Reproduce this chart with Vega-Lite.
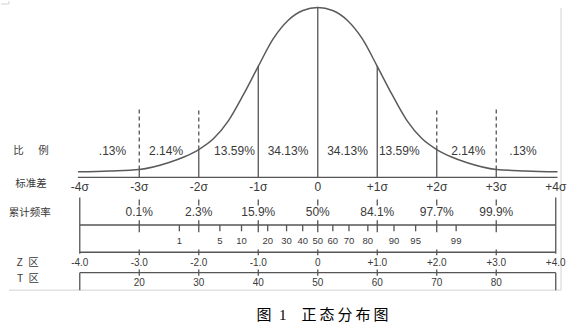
{
  "$schema": "https://vega.github.io/schema/vega-lite/v6.json",
  "width": 578,
  "height": 332,
  "autosize": {"type": "fit", "contains": "padding"},
  "padding": 0,
  "background": "white",
  "config": {"view": {"stroke": null}},
  "datasets": {
    "curve": [
      {"z": -4.03, "h": 5.7}, {"z": -3.5, "h": 6.6}, {"z": -3, "h": 8}, {"z": -2.5, "h": 15},
      {"z": -2.25, "h": 20.5}, {"z": -2, "h": 28}, {"z": -1.75, "h": 39}, {"z": -1.5, "h": 57},
      {"z": -1.25, "h": 83}, {"z": -1, "h": 111.5}, {"z": -0.75, "h": 139}, {"z": -0.5, "h": 157.5},
      {"z": -0.25, "h": 167.5}, {"z": 0, "h": 170.5}, {"z": 0.25, "h": 167.5}, {"z": 0.5, "h": 157.5},
      {"z": 0.75, "h": 139}, {"z": 1, "h": 111.5}, {"z": 1.25, "h": 83}, {"z": 1.5, "h": 57},
      {"z": 1.75, "h": 39}, {"z": 2, "h": 28}, {"z": 2.25, "h": 20.5}, {"z": 2.5, "h": 15},
      {"z": 3, "h": 8}, {"z": 3.5, "h": 6.6}, {"z": 4.03, "h": 5.7}
    ],
    "lines": [
      {"x": -4.03, "x2": 4.03, "y": 0, "y2": 0},
      {"x": -4, "x2": 4, "y": -47.7, "y2": -47.7},
      {"x": -4, "x2": 4, "y": -75, "y2": -75},
      {"x": -4, "x2": 4, "y": -95.5, "y2": -95.5},
      {"x": 0, "x2": 0, "y": 0, "y2": 170.5},
      {"x": -1, "x2": -1, "y": 0, "y2": 112},
      {"x": 1, "x2": 1, "y": 0, "y2": 112},
      {"x": -2, "x2": -2, "y": 0, "y2": 28},
      {"x": 2, "x2": 2, "y": 0, "y2": 28},
      {"x": -3, "x2": -3, "y": 0, "y2": 8},
      {"x": 3, "x2": 3, "y": 0, "y2": 8},
      {"x": -4, "x2": -4, "y": -20, "y2": -76.5},
      {"x": -4, "x2": -4, "y": -95.5, "y2": -113},
      {"x": 4, "x2": 4, "y": -20, "y2": -76.5},
      {"x": 4, "x2": 4, "y": -95.5, "y2": -113},
      {"x": -3, "x2": -3, "y": -22, "y2": -28},
      {"x": -2, "x2": -2, "y": -22, "y2": -28},
      {"x": -1, "x2": -1, "y": -22, "y2": -28},
      {"x": 0, "x2": 0, "y": -22, "y2": -28},
      {"x": 1, "x2": 1, "y": -22, "y2": -28},
      {"x": 2, "x2": 2, "y": -22, "y2": -28},
      {"x": 3, "x2": 3, "y": -22, "y2": -28},
      {"x": -3, "x2": -3, "y": -43, "y2": -55},
      {"x": -2, "x2": -2, "y": -43, "y2": -55},
      {"x": -1, "x2": -1, "y": -43, "y2": -55},
      {"x": 0, "x2": 0, "y": -43, "y2": -55},
      {"x": 1, "x2": 1, "y": -43, "y2": -55},
      {"x": 2, "x2": 2, "y": -43, "y2": -55},
      {"x": 3, "x2": 3, "y": -43, "y2": -55},
      {"x": -2.326, "x2": -2.326, "y": -47.7, "y2": -54},
      {"x": -1.645, "x2": -1.645, "y": -47.7, "y2": -54},
      {"x": -1.2816, "x2": -1.2816, "y": -47.7, "y2": -54},
      {"x": -0.8416, "x2": -0.8416, "y": -47.7, "y2": -54},
      {"x": -0.5244, "x2": -0.5244, "y": -47.7, "y2": -54},
      {"x": -0.2533, "x2": -0.2533, "y": -47.7, "y2": -54},
      {"x": 0.2533, "x2": 0.2533, "y": -47.7, "y2": -54},
      {"x": 0.5244, "x2": 0.5244, "y": -47.7, "y2": -54},
      {"x": 0.8416, "x2": 0.8416, "y": -47.7, "y2": -54},
      {"x": 1.2816, "x2": 1.2816, "y": -47.7, "y2": -54},
      {"x": 1.645, "x2": 1.645, "y": -47.7, "y2": -54},
      {"x": 2.326, "x2": 2.326, "y": -47.7, "y2": -54},
      {"x": -3, "x2": -3, "y": -72.3, "y2": -78},
      {"x": -2, "x2": -2, "y": -72.3, "y2": -78},
      {"x": -1, "x2": -1, "y": -72.3, "y2": -78},
      {"x": 0, "x2": 0, "y": -72.3, "y2": -78},
      {"x": 1, "x2": 1, "y": -72.3, "y2": -78},
      {"x": 2, "x2": 2, "y": -72.3, "y2": -78},
      {"x": 3, "x2": 3, "y": -72.3, "y2": -78},
      {"x": -3, "x2": -3, "y": -92.3, "y2": -98.5},
      {"x": -2, "x2": -2, "y": -92.3, "y2": -98.5},
      {"x": -1, "x2": -1, "y": -92.3, "y2": -98.5},
      {"x": 0, "x2": 0, "y": -92.3, "y2": -98.5},
      {"x": 1, "x2": 1, "y": -92.3, "y2": -98.5},
      {"x": 2, "x2": 2, "y": -92.3, "y2": -98.5},
      {"x": 3, "x2": 3, "y": -92.3, "y2": -98.5}
    ],
    "guides": [
      {"x": -3, "x2": -3, "y": 8, "y2": 70},
      {"x": 3, "x2": 3, "y": 8, "y2": 70},
      {"x": -2, "x2": -2, "y": 28, "y2": 70},
      {"x": 2, "x2": 2, "y": 28, "y2": 70}
    ],
    "frame": [
      {"x": -5.19, "x2": 4.089, "y": -113, "y2": -113},
      {"x": 4.089, "x2": 4.089, "y": -113, "y2": 170},
      {"x": -5.324, "x2": -5.19, "y": 174, "y2": 174},
      {"x": -5.19, "x2": -5.19, "y": 174, "y2": 177}
    ],
    "labels": [
      {"row": "pct", "x": -3.45, "y": 27, "text": ".13%"},
      {"row": "pct", "x": -2.55, "y": 27, "text": "2.14%"},
      {"row": "pct", "x": -1.4, "y": 27, "text": "13.59%"},
      {"row": "pct", "x": -0.5, "y": 27, "text": "34.13%"},
      {"row": "pct", "x": 0.5, "y": 27, "text": "34.13%"},
      {"row": "pct", "x": 1.37, "y": 27, "text": "13.59%"},
      {"row": "pct", "x": 2.53, "y": 27, "text": "2.14%"},
      {"row": "pct", "x": 3.45, "y": 27, "text": ".13%"},
      {"row": "sigma", "x": -4, "y": -9.5, "text": "-4σ"},
      {"row": "sigma", "x": -3, "y": -9.5, "text": "-3σ"},
      {"row": "sigma", "x": -2, "y": -9.5, "text": "-2σ"},
      {"row": "sigma", "x": -1, "y": -9.5, "text": "-1σ"},
      {"row": "sigma", "x": 0, "y": -9.5, "text": "0"},
      {"row": "sigma", "x": 1, "y": -9.5, "text": "+1σ"},
      {"row": "sigma", "x": 2, "y": -9.5, "text": "+2σ"},
      {"row": "sigma", "x": 3, "y": -9.5, "text": "+3σ"},
      {"row": "sigma", "x": 4, "y": -9.5, "text": "+4σ"},
      {"row": "cum", "x": -3, "y": -35, "text": "0.1%"},
      {"row": "cum", "x": -2, "y": -35, "text": "2.3%"},
      {"row": "cum", "x": -1, "y": -35, "text": "15.9%"},
      {"row": "cum", "x": 0, "y": -35, "text": "50%"},
      {"row": "cum", "x": 1, "y": -35, "text": "84.1%"},
      {"row": "cum", "x": 2, "y": -35, "text": "97.7%"},
      {"row": "cum", "x": 3, "y": -35, "text": "99.9%"},
      {"row": "pctile", "x": -2.326, "y": -64, "text": "1"},
      {"row": "pctile", "x": -1.645, "y": -64, "text": "5"},
      {"row": "pctile", "x": -1.2816, "y": -64, "text": "10"},
      {"row": "pctile", "x": -0.8416, "y": -64, "text": "20"},
      {"row": "pctile", "x": -0.5244, "y": -64, "text": "30"},
      {"row": "pctile", "x": -0.2533, "y": -64, "text": "40"},
      {"row": "pctile", "x": 0, "y": -64, "text": "50"},
      {"row": "pctile", "x": 0.2533, "y": -64, "text": "60"},
      {"row": "pctile", "x": 0.5244, "y": -64, "text": "70"},
      {"row": "pctile", "x": 0.8416, "y": -64, "text": "80"},
      {"row": "pctile", "x": 1.2816, "y": -64, "text": "90"},
      {"row": "pctile", "x": 1.645, "y": -64, "text": "95"},
      {"row": "pctile", "x": 2.326, "y": -64, "text": "99"},
      {"row": "z", "x": -4, "y": -86, "text": "-4.0"},
      {"row": "z", "x": -3, "y": -86, "text": "-3.0"},
      {"row": "z", "x": -2, "y": -86, "text": "-2.0"},
      {"row": "z", "x": -1, "y": -86, "text": "-1.0"},
      {"row": "z", "x": 0, "y": -86, "text": "0"},
      {"row": "z", "x": 1, "y": -86, "text": "+1.0"},
      {"row": "z", "x": 2, "y": -86, "text": "+2.0"},
      {"row": "z", "x": 3, "y": -86, "text": "+3.0"},
      {"row": "z", "x": 4, "y": -86, "text": "+4.0"},
      {"row": "t", "x": -3, "y": -106.3, "text": "20"},
      {"row": "t", "x": -2, "y": -106.3, "text": "30"},
      {"row": "t", "x": -1, "y": -106.3, "text": "40"},
      {"row": "t", "x": 0, "y": -106.3, "text": "50"},
      {"row": "t", "x": 1, "y": -106.3, "text": "60"},
      {"row": "t", "x": 2, "y": -106.3, "text": "70"},
      {"row": "t", "x": 3, "y": -106.3, "text": "80"},
      {"row": "name", "x": -5.03, "y": 27, "text": "比"},
      {"row": "name", "x": -4.611, "y": 27, "text": "例"},
      {"row": "name", "x": -4.82, "y": -7, "text": "标准差"},
      {"row": "name", "x": -4.842, "y": -35.5, "text": "累计频率"},
      {"row": "name", "x": -4.876, "y": -86, "text": "Z\u2002区"},
      {"row": "name", "x": -4.871, "y": -101.5, "text": "T\u2002区"},
      {"row": "caption", "x": 0.079, "y": -138, "text": "图\u20021\u2003正\u2009态\u2009分\u2009布\u2009图"}
    ]
  },
  "layer": [
    {
      "data": {"name": "frame"},
      "mark": {"type": "rule", "color": "#d2d2d2", "strokeWidth": 1},
      "encoding": {
        "x": {"field": "x", "type": "quantitative", "scale": {"domain": [-5.324, 4.374], "nice": false, "zero": false}, "axis": null},
        "x2": {"field": "x2"},
        "y": {"field": "y", "type": "quantitative", "scale": {"domain": [-155, 177], "nice": false, "zero": false}, "axis": null},
        "y2": {"field": "y2"}
      }
    },
    {
      "data": {"name": "lines"},
      "mark": {"type": "rule", "color": "#555555", "strokeWidth": 1.3},
      "encoding": {
        "x": {"field": "x", "type": "quantitative"},
        "x2": {"field": "x2"},
        "y": {"field": "y", "type": "quantitative"},
        "y2": {"field": "y2"}
      }
    },
    {
      "data": {"name": "guides"},
      "mark": {"type": "rule", "color": "#555555", "strokeWidth": 1.3, "strokeDash": [4, 3]},
      "encoding": {
        "x": {"field": "x", "type": "quantitative"},
        "x2": {"field": "x2"},
        "y": {"field": "y", "type": "quantitative"},
        "y2": {"field": "y2"}
      }
    },
    {
      "data": {"name": "curve"},
      "mark": {"type": "line", "color": "#5a5a5a", "strokeWidth": 1.5, "interpolate": "monotone"},
      "encoding": {
        "x": {"field": "z", "type": "quantitative"},
        "y": {"field": "h", "type": "quantitative"}
      }
    },
    {
      "data": {"name": "labels"},
      "transform": [{"filter": "datum.row === 'pct' || datum.row === 'sigma' || datum.row === 'cum'"}],
      "mark": {"type": "text", "font": "Liberation Sans", "fontSize": 12, "color": "#3a3a3a", "baseline": "middle", "align": "center"},
      "encoding": {
        "x": {"field": "x", "type": "quantitative"},
        "y": {"field": "y", "type": "quantitative"},
        "text": {"field": "text"}
      }
    },
    {
      "data": {"name": "labels"},
      "transform": [{"filter": "datum.row === 'pctile'"}],
      "mark": {"type": "text", "font": "Liberation Sans", "fontSize": 9.5, "color": "#3a3a3a", "baseline": "middle", "align": "center"},
      "encoding": {
        "x": {"field": "x", "type": "quantitative"},
        "y": {"field": "y", "type": "quantitative"},
        "text": {"field": "text"}
      }
    },
    {
      "data": {"name": "labels"},
      "transform": [{"filter": "datum.row === 'z' || datum.row === 't'"}],
      "mark": {"type": "text", "font": "Liberation Sans", "fontSize": 10, "color": "#3a3a3a", "baseline": "middle", "align": "center"},
      "encoding": {
        "x": {"field": "x", "type": "quantitative"},
        "y": {"field": "y", "type": "quantitative"},
        "text": {"field": "text"}
      }
    },
    {
      "data": {"name": "labels"},
      "transform": [{"filter": "datum.row === 'name'"}],
      "mark": {"type": "text", "font": "Noto Sans CJK SC", "fontSize": 10.5, "color": "#3a3a3a", "baseline": "middle", "align": "center"},
      "encoding": {
        "x": {"field": "x", "type": "quantitative"},
        "y": {"field": "y", "type": "quantitative"},
        "text": {"field": "text"}
      }
    },
    {
      "data": {"name": "labels"},
      "transform": [{"filter": "datum.row === 'caption'"}],
      "mark": {"type": "text", "font": "Liberation Serif, Noto Sans CJK SC", "fontSize": 15, "fontWeight": "normal", "color": "#000000", "baseline": "middle", "align": "center"},
      "encoding": {
        "x": {"field": "x", "type": "quantitative"},
        "y": {"field": "y", "type": "quantitative"},
        "text": {"field": "text"}
      }
    }
  ]
}
